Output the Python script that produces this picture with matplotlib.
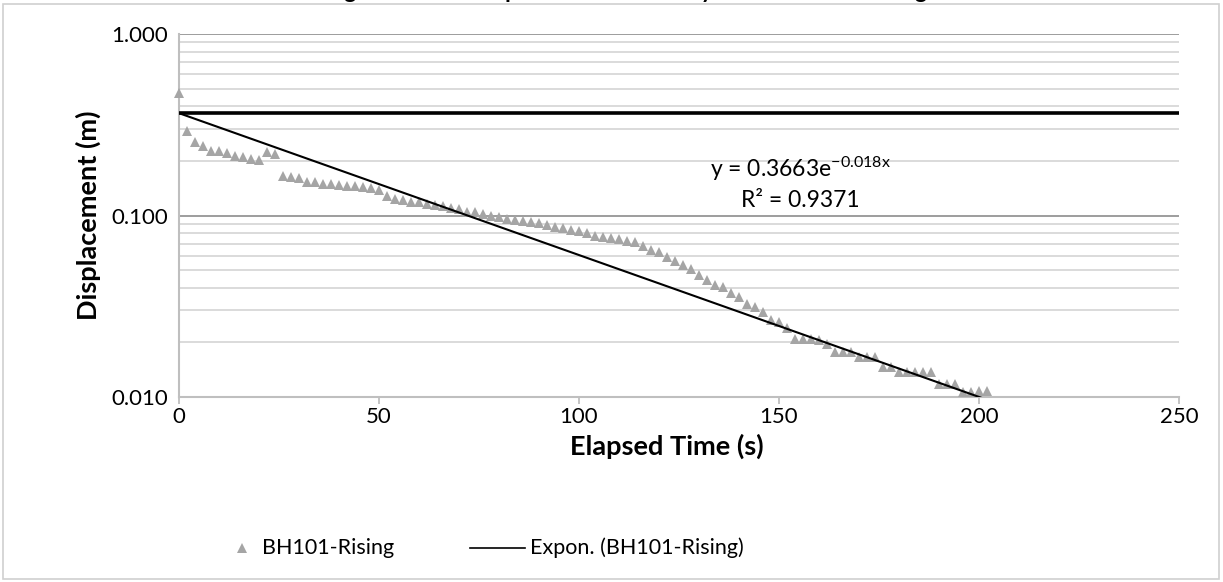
import numpy as np
import matplotlib.pyplot as plt
from matplotlib.patches import Rectangle
from matplotlib.lines import Line2D

# --- Data ---
series_name = "BH101-Rising"
elapsed_s = [0, 2, 4, 6, 8, 10, 12, 14, 16, 18, 20, 22, 24, 26, 28, 30, 32, 34, 36, 38,
             40, 42, 44, 46, 48, 50, 52, 54, 56, 58, 60, 62, 64, 66, 68, 70, 72, 74, 76, 78,
             80, 82, 84, 86, 88, 90, 92, 94, 96, 98, 100, 102, 104, 106, 108, 110, 112, 114,
             116, 118, 120, 122, 124, 126, 128, 130, 132, 134, 136, 138, 140, 142, 144, 146,
             148, 150, 152, 154, 156, 158, 160, 162, 164, 166, 168, 170, 172, 174, 176, 178,
             180, 182, 184, 186, 188, 190, 192, 194, 196, 198, 200, 202]
displacement_m = [0.473, 0.293, 0.255, 0.242, 0.228, 0.228, 0.222, 0.213, 0.209, 0.206,
                  0.201, 0.223, 0.217, 0.166, 0.162, 0.161, 0.153, 0.152, 0.150, 0.149,
                  0.147, 0.146, 0.145, 0.143, 0.141, 0.139, 0.128, 0.124, 0.122, 0.119,
                  0.118, 0.116, 0.114, 0.113, 0.110, 0.108, 0.105, 0.104, 0.102, 0.100,
                  0.0985, 0.096, 0.0945, 0.093, 0.0925, 0.0905, 0.089, 0.086, 0.085, 0.083,
                  0.082, 0.080, 0.0775, 0.0765, 0.075, 0.074, 0.0725, 0.0712, 0.0675, 0.0645,
                  0.0627, 0.0588, 0.0564, 0.0534, 0.0505, 0.047, 0.0441, 0.0414, 0.0405, 0.0375,
                  0.0355, 0.0325, 0.0315, 0.0295, 0.0265, 0.0258, 0.0239, 0.0208, 0.0208, 0.0208,
                  0.0207, 0.0196, 0.0178, 0.0178, 0.0178, 0.0167, 0.0167, 0.0167, 0.0147, 0.0147,
                  0.0138, 0.0138, 0.0138, 0.0138, 0.0138, 0.0118, 0.0118, 0.0118, 0.0107, 0.0107,
                  0.0108, 0.0108]

# exponential trendline y = a * exp(b x)
trend_a = 0.3663
trend_b = -0.018
trend_r2 = 0.9371
trend_x = [0, 202]
h0_level = 0.3663          # horizontal reference line

x_ticks = [0, 50, 100, 150, 200, 250]
y_ticks = [0.01, 0.1, 1.0]

plt.rcParams['font.family'] = ['Lato', 'DejaVu Sans']
plt.rcParams['mathtext.default'] = 'regular'

W, H = 1223, 582
fig = plt.figure(figsize=(W / 100, H / 100), dpi=100)
ax = fig.add_axes([179 / W, 1 - 397 / H, 1000 / W, 363 / H])

# chart area border
fig.patches.append(Rectangle((3 / W, 3 / H), 1216 / W, 575 / H,
                             transform=fig.transFigure, fill=False,
                             edgecolor='#d0d0d0', linewidth=1.2))

ax.set_yscale('log')
ax.set_xlim(0, 250)
ax.set_ylim(0.01, 1.0)

# gridlines
ax.set_axisbelow(True)
ax.grid(which='major', axis='y', color='#8c8c8c', linewidth=1.2)
ax.grid(which='minor', axis='y', color='#d4d4d4', linewidth=1.2)
ax.grid(which='both', axis='x', visible=False)

# data
marker_style = dict(linestyle='none', marker='^', markersize=7.5,
                    color='#a5a5a5', markeredgewidth=0)
ax.plot(elapsed_s, displacement_m, clip_on=False, zorder=3, **marker_style)

# trendline
tx = np.linspace(trend_x[0], trend_x[1], 200)
ax.plot(tx, trend_a * np.exp(trend_b * tx), color='black', linewidth=1.5, zorder=4)

# horizontal reference line
ax.axhline(h0_level, color='black', linewidth=2.6, zorder=4)

# axes styling
for side in ['top', 'right']:
    ax.spines[side].set_visible(False)
for side in ['left', 'bottom']:
    ax.spines[side].set_color('#bfbfbf')
    ax.spines[side].set_linewidth(1.5)

ax.set_xticks(x_ticks)
ax.set_yticks(y_ticks)
ax.set_yticklabels([f"{v:.3f}" for v in y_ticks])
ax.yaxis.set_minor_formatter(plt.NullFormatter())
ax.tick_params(axis='x', which='major', direction='out', length=5, width=1.3,
               color='#bfbfbf', labelsize=16, pad=2)
ax.tick_params(axis='y', which='both', length=0, labelsize=16, pad=8)

ax.set_xlabel("Elapsed Time (s)", fontsize=19.5, fontweight='bold')
ax.set_ylabel("Displacement (m)", fontsize=19.5, fontweight='bold')
ax.xaxis.set_label_coords(0.488, -0.135)
ax.xaxis.label.set_va('center')
ax.yaxis.set_label_coords(-0.091, 0.5)
ax.yaxis.label.set_va('center')

# trendline equation
ax.text(0.621, 0.606, f"y = {trend_a}e$^{{{trend_b}x}}$", transform=ax.transAxes,
        ha='center', va='baseline', fontsize=16.5)
ax.text(0.621, 0.523, f"R² = {trend_r2}", transform=ax.transAxes,
        ha='center', va='baseline', fontsize=16.5)

# title (cropped in the reference: only its descenders show at the top edge)
fig.text(0.5, 1.003, "Rising Head Test Displacement Recovery Curve BH101-Rising",
         ha='center', va='baseline', fontsize=16.5, fontweight='bold')

# legend, laid out like the spreadsheet legend under the plot
leg_y = 1 - 548 / H
fig.add_artist(Line2D([242 / W], [leg_y], transform=fig.transFigure, **marker_style))
fig.text(262 / W, leg_y, series_name, ha='left', va='center', fontsize=15.5)
fig.add_artist(Line2D([470 / W, 525 / W], [leg_y, leg_y], transform=fig.transFigure,
                      color='black', linewidth=1.2))
fig.text(530 / W, leg_y, f"Expon. ({series_name})", ha='left', va='center', fontsize=15.5)

fig.savefig('out.png', dpi=100)
